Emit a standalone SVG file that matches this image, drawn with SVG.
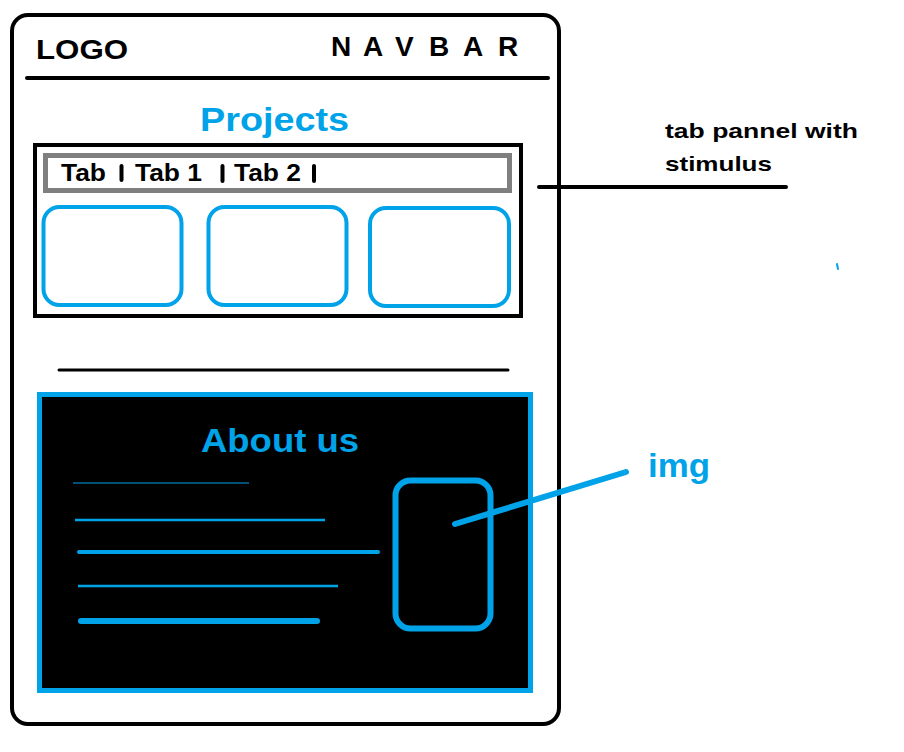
<svg xmlns="http://www.w3.org/2000/svg" width="904" height="752" viewBox="0 0 904 752">
<style>
.blk{fill:none;stroke:#000;stroke-width:4}
.blu{fill:none;stroke:#00A2E8;stroke-linecap:round}
.t{font-family:"Liberation Sans",Arial,sans-serif;font-weight:bold}
.tb{fill:#00A2E8}
</style>
<rect width="904" height="752" fill="#fff"/>
<g id="frame">
<rect x="12" y="15" width="547" height="709" rx="16" class="blk"/>
</g>
<g id="header">
<text x="36" y="59" class="t" font-size="28" textLength="92" lengthAdjust="spacingAndGlyphs">LOGO</text>
<text x="331 363 395 429 463 498" y="56" class="t" font-size="28">NAVBAR</text>
<line x1="27" y1="78" x2="548" y2="78" stroke="#000" stroke-width="4" stroke-linecap="round"/>
</g>
<g id="projects">
<text x="200" y="131" class="t tb" font-size="33" textLength="149" lengthAdjust="spacingAndGlyphs">Projects</text>
<rect x="35" y="145" width="486" height="171" class="blk"/>
<rect x="45.5" y="155.5" width="464" height="35" fill="none" stroke="#7F7F7F" stroke-width="5"/>
<text x="61" y="181" class="t" font-size="23" textLength="45" lengthAdjust="spacingAndGlyphs">Tab</text>
<text x="135" y="181" class="t" font-size="23" textLength="67" lengthAdjust="spacingAndGlyphs">Tab 1</text>
<text x="234" y="181" class="t" font-size="23" textLength="67" lengthAdjust="spacingAndGlyphs">Tab 2</text>
<g stroke="#000" stroke-width="4" stroke-linecap="round">
<line x1="121.5" y1="166" x2="121.5" y2="180"/>
<line x1="222.5" y1="166" x2="222.5" y2="181"/>
<line x1="314" y1="166" x2="314" y2="181"/>
</g>
<g class="blu" stroke-width="4">
<rect x="43.5" y="207" width="138" height="98" rx="16"/>
<rect x="208.5" y="207" width="138" height="98" rx="16"/>
<rect x="370" y="208" width="139" height="98" rx="16"/>
</g>
</g>
<g id="divider">
<line x1="59" y1="370" x2="508" y2="370" stroke="#000" stroke-width="3" stroke-linecap="round"/>
</g>
<g id="about">
<rect x="39.5" y="394.5" width="491" height="296" fill="#000" stroke="#00A2E8" stroke-width="5"/>
<text x="201" y="452" class="t tb" font-size="33" textLength="158" lengthAdjust="spacingAndGlyphs">About us</text>
<g class="blu">
<line x1="73" y1="483" x2="249" y2="483" stroke-width="1" stroke-linecap="butt"/>
<line x1="75" y1="520" x2="325" y2="520" stroke-width="2.5" stroke-linecap="butt"/>
<line x1="79" y1="552" x2="378" y2="552" stroke-width="4"/>
<line x1="78" y1="586" x2="338" y2="586" stroke-width="2.5" stroke-linecap="butt"/>
<line x1="81" y1="621" x2="317" y2="621" stroke-width="6"/>
</g>
<rect x="395.5" y="480.5" width="95" height="148" rx="15" class="blu" stroke-width="6"/>
</g>
<g id="labels">
<text x="665" y="138" class="t" font-size="21" textLength="193" lengthAdjust="spacingAndGlyphs">tab pannel with</text>
<text x="665" y="171" class="t" font-size="21" textLength="107" lengthAdjust="spacingAndGlyphs">stimulus</text>
<text x="648" y="477" class="t tb" font-size="34" textLength="62" lengthAdjust="spacingAndGlyphs">img</text>
<line x1="837" y1="264" x2="838" y2="269" class="blu" stroke-width="2"/>
</g>
<g id="connectors">
<line x1="539" y1="187" x2="786" y2="187" stroke="#000" stroke-width="4" stroke-linecap="round"/>
<line x1="455" y1="524" x2="626" y2="472" class="blu" stroke-width="6"/>
</g>
</svg>
